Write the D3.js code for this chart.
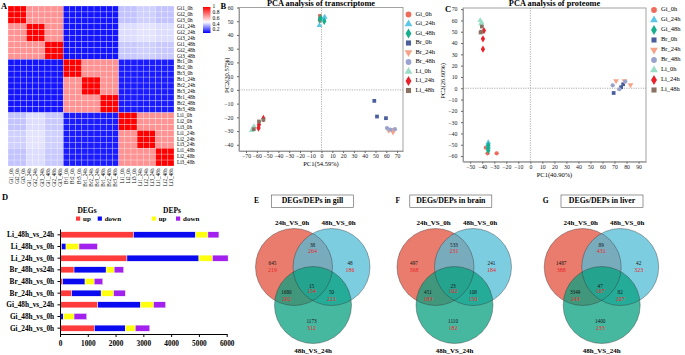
<!DOCTYPE html>
<html><head><meta charset="utf-8">
<script src="https://cdn.jsdelivr.net/npm/d3@7"></script>
<style>
body{margin:0;background:#fff;}
svg{display:block;font-family:"Liberation Serif","Times New Roman",serif;}
</style></head><body>
<svg id="c" width="685" height="355"></svg>
<script>
// ---------------- DATA ----------------
const sampleNames = ["Gi1_0h","Gi2_0h","Gi3_0h","Gi1_24h","Gi2_24h","Gi3_24h","Gi1_48h","Gi2_48h","Gi3_48h",
  "Br1_0h","Br2_0h","Br3_0h","Br1_24h","Br2_24h","Br3_24h","Br1_48h","Br2_48h","Br3_48h",
  "Li1_0h","Li2_0h","Li3_0h","Li1_24h","Li2_24h","Li3_24h","Li1_48h","Li2_48h","Li3_48h"];
const groupNames = ["Gi_0h","Gi_24h","Gi_48h","Br_0h","Br_24h","Br_48h","Li_0h","Li_24h","Li_48h"];
const groupCorr = [
  [1.00,0.70,0.70,0.13,0.13,0.13,0.39,0.41,0.39],
  [0.70,1.00,0.70,0.13,0.13,0.13,0.43,0.44,0.43],
  [0.70,0.70,1.00,0.13,0.13,0.13,0.40,0.41,0.40],
  [0.13,0.13,0.13,1.00,0.70,0.70,0.14,0.14,0.14],
  [0.13,0.13,0.13,0.70,1.00,0.70,0.14,0.14,0.14],
  [0.13,0.13,0.13,0.70,0.70,1.00,0.14,0.14,0.14],
  [0.39,0.43,0.40,0.14,0.14,0.14,1.00,0.70,0.70],
  [0.41,0.44,0.41,0.14,0.14,0.14,0.70,1.00,0.70],
  [0.39,0.43,0.40,0.14,0.14,0.14,0.70,0.70,1.00]];
const colorbarTicks = [1,0.8,0.6,0.4,0.2];

const pcaColors = ["#EE6B5B","#5CC6E6","#17AE8C","#4B5E9C","#F6A289","#9AA3CE","#9ADDC6","#E8222B","#8A7262"];
const pcaShapes = ["circle","triangle","diamond","square","triangleDown","circle","triangle","diamond","square"];

const transPoints = [
  ["Gi_0h",-1.5,54],["Gi_0h",-1.3,52],["Gi_0h",-1.5,50.5],
  ["Gi_24h",3,53],["Gi_24h",-2,47],["Gi_24h",2,52],
  ["Gi_48h",-1.5,51],["Gi_48h",2.5,50],["Gi_48h",-1,52.5],
  ["Br_0h",48.9,-8],["Br_0h",51.4,-19.4],["Br_0h",59.7,-20.6],
  ["Br_24h",62.2,-29.5],["Br_24h",66.2,-30.8],["Br_24h",65.3,-29],
  ["Br_48h",60.7,-27.8],["Br_48h",63.7,-29],["Br_48h",68,-28.6],
  ["Li_0h",-64.7,-29.5],["Li_0h",-63.5,-28],["Li_0h",-62.6,-26.6],
  ["Li_24h",-58.4,-27.8],["Li_24h",-58,-25.4],["Li_24h",-53.9,-20.8],
  ["Li_48h",-62.8,-28.6],["Li_48h",-58,-23],["Li_48h",-53.9,-21.8]];
const protPoints = [
  ["Gi_0h",-37,-52.6],["Gi_0h",-35.6,-57.6],["Gi_0h",-28,-57.6],
  ["Gi_24h",-35,-48],["Gi_24h",-35.2,-50],["Gi_24h",-35,-52],
  ["Gi_48h",-35,-50.5],["Gi_48h",-35.3,-53],["Gi_48h",-35,-55],
  ["Br_0h",69.3,-4.2],["Br_0h",75.5,0.9],["Br_0h",77.2,3.5],
  ["Br_24h",71.3,6.5],["Br_24h",78.3,6.5],["Br_24h",83.3,2.9],
  ["Br_48h",68.5,2.6],["Br_48h",74,-0.9],["Br_48h",79,5.9],
  ["Li_0h",-41.7,60],["Li_0h",-41,57],["Li_0h",-40.5,58],
  ["Li_24h",-38.6,51],["Li_24h",-39.4,43.7],["Li_24h",-39.4,34.6],
  ["Li_48h",-40.3,54.6],["Li_48h",-41.4,49.3],["Li_48h",-40.8,50]];
const transXTicks = [-70,-60,-50,-40,-30,-20,-10,0,10,20,30,40,50,60,70];
const transYTicks = [-40,-30,-20,-10,0,10,20,30,40,50,60];
const protXTicks = [-50,-40,-30,-20,-10,0,10,20,30,40,50,60,70,80,90];
const protYTicks = [-60,-50,-40,-30,-20,-10,0,10,20,30,40,50,60,70];

const barCategories = ["Li_48h_vs_24h","Li_48h_vs_0h","Li_24h_vs_0h","Br_48h_vs24h","Br_48h_vs_0h","Br_24h_vs_0h","Gi_48h_vs_24h","Gi_48h_vs_0h","Gi_24h_vs_0h"];
const degUp   = [2650,  60, 2410,  506,  96,  420, 1360,  12, 1240];
const degDown = [2230, 155, 2590, 1154, 804, 1060, 1540, 108, 1110];
const depUp   = [ 445, 470,  490,  290, 330,  450,  470, 386,  360];
const depDown = [ 395, 660,  560,  340, 310,  420,  430, 454,  520];
const barTicks = [0,1000,2000,3000,4000,5000,6000];

const vennSets = ["24h_VS_0h","48h_VS_0h","48h_VS_24h"];
// region order: A only, A∩B, B only, A∩C, A∩B∩C, B∩C, C only
const gillDEG  = [645, 38, 48, 1680, 15, 50, 1173];
const gillDEP  = [219, 264, 186, 202, 154, 221, 312];
const brainDEG = [497, 533, 241, 451, 23, 108, 1110];
const brainDEP = [368, 231, 184, 183, 102, 150, 182];
const liverDEG = [1487, 89, 42, 3349, 47, 82, 1400];
const liverDEP = [388, 431, 323, 243, 167, 207, 233];

// ---------------- DRAW ----------------
const svg = d3.select("#c");
const FONT = '"Liberation Serif","Times New Roman",serif';

function panelLetter(t,x,y){
  svg.append("text").attr("x",x).attr("y",y).attr("font-size",8.5).attr("font-weight","bold").text(t);
}

// ---- Panel A: heatmap ----
panelLetter("A",1,9);
const hmX = d3.scaleBand().domain(sampleNames).range([8,174]);
const hmY = d3.scaleBand().domain(sampleNames).range([6,166]);
const hmColor = d3.scaleLinear().domain([0.1,0.48,1]).range(["#0000ff","#ffffff","#ff0000"]);
const cells = [];
sampleNames.forEach((r,i)=>sampleNames.forEach((c,j)=>{
  cells.push({r,c,v:groupCorr[Math.floor(i/3)][Math.floor(j/3)]});
}));
svg.append("g").selectAll("rect").data(cells).join("rect")
  .attr("x",d=>hmX(d.c)).attr("y",d=>hmY(d.r))
  .attr("width",hmX.bandwidth()).attr("height",hmY.bandwidth())
  .attr("fill",d=>hmColor(d.v))
  .attr("stroke","rgba(255,255,255,0.45)").attr("stroke-width",0.5);
svg.append("g").selectAll("text").data(sampleNames).join("text")
  .attr("x",177).attr("y",d=>hmY(d)+hmY.bandwidth()/2)
  .attr("dominant-baseline","middle").attr("font-size",5.2).text(d=>d);
svg.append("g").selectAll("text").data(sampleNames).join("text")
  .attr("transform",d=>`translate(${hmX(d)+hmX.bandwidth()/2+1.8},168.5) rotate(-90)`)
  .attr("text-anchor","end").attr("font-size",5.2).text(d=>d);
// colour bar
const cbY = d3.scaleLinear().domain([1,0.1]).range([7,33]);
const defs = svg.append("defs");
const grad = defs.append("linearGradient").attr("id","cbg").attr("x1",0).attr("x2",0).attr("y1",0).attr("y2",1);
d3.range(0,1.0001,0.05).forEach(t=>{
  const v = 1 - t*0.9;
  grad.append("stop").attr("offset",t).attr("stop-color",hmColor(v));
});
svg.append("rect").attr("x",203).attr("y",cbY(1)).attr("width",7.5).attr("height",cbY(0.1)-cbY(1)).attr("fill","url(#cbg)");
svg.append("g").selectAll("text").data(colorbarTicks).join("text")
  .attr("x",212.5).attr("y",d=>cbY(d)).attr("dominant-baseline","middle").attr("font-size",5.5).text(d=>d);

// ---- symbols ----
function symPath(shape,size){
  const map = {circle:d3.symbolCircle,triangle:d3.symbolTriangle,triangleDown:d3.symbolTriangle,
               diamond:d3.symbolDiamond,square:d3.symbolSquare};
  return d3.symbol().type(map[shape]).size(size)();
}
function symTransform(shape,x,y){
  return shape==="triangleDown" ? `translate(${x},${y}) rotate(180)` : `translate(${x},${y})`;
}

// ---- PCA panel ----
function pca(cfg){
  const x = d3.scaleLinear().domain(cfg.xDom).range([cfg.left,cfg.right]);
  const y = d3.scaleLinear().domain(cfg.yDom).range([cfg.bottom,cfg.top]);
  const g = svg.append("g");
  g.append("rect").attr("x",cfg.left).attr("y",cfg.top).attr("width",cfg.right-cfg.left)
    .attr("height",cfg.bottom-cfg.top).attr("fill","none").attr("stroke","#999").attr("stroke-width",0.9);
  const ax = g.append("g").attr("transform",`translate(0,${cfg.bottom})`)
    .call(d3.axisBottom(x).tickValues(cfg.xTicks).tickSize(2).tickSizeOuter(0));
  const ay = g.append("g").attr("transform",`translate(${cfg.left},0)`)
    .call(d3.axisLeft(y).tickValues(cfg.yTicks).tickSize(2).tickSizeOuter(0));
  [ax,ay].forEach(a=>{
    a.select(".domain").attr("stroke","#999");
    a.selectAll(".tick line").attr("stroke","#666");
    a.selectAll("text").attr("font-family",FONT).attr("font-size",5.8).attr("fill","#222");
  });
  ax.selectAll("text").attr("y",3).attr("dy","0.75em");
  ay.selectAll("text").attr("dx","-0.1em");
  g.append("line").attr("x1",x(0)).attr("x2",x(0)).attr("y1",cfg.top).attr("y2",cfg.bottom)
    .attr("stroke","#777").attr("stroke-width",0.6).attr("stroke-dasharray","1.2,1.2");
  g.append("line").attr("x1",cfg.left).attr("x2",cfg.right).attr("y1",y(0)).attr("y2",y(0))
    .attr("stroke","#777").attr("stroke-width",0.6).attr("stroke-dasharray","1.2,1.2");
  g.append("g").selectAll("path").data(cfg.points).join("path")
    .attr("d",d=>symPath(pcaShapes[groupNames.indexOf(d[0])],pcaShapes[groupNames.indexOf(d[0])]==="diamond"?16:14))
    .attr("transform",d=>symTransform(pcaShapes[groupNames.indexOf(d[0])],x(d[1]),y(d[2])))
    .attr("fill",d=>pcaColors[groupNames.indexOf(d[0])]);
  g.append("text").attr("x",(cfg.left+cfg.right)/2).attr("y",6.3).attr("text-anchor","middle")
    .attr("font-size",8.3).attr("font-weight","bold").text(cfg.title);
  g.append("text").attr("x",(cfg.left+cfg.right)/2).attr("y",cfg.xTitleY).attr("text-anchor","middle")
    .attr("font-size",6.5).text(cfg.xTitle);
  g.append("text").attr("transform",`translate(${cfg.yTitleX},${(cfg.top+cfg.bottom)/2-4}) rotate(-90)`)
    .attr("text-anchor","middle").attr("font-size",6.5).text(cfg.yTitle);
  const lg = g.append("g");
  groupNames.forEach((n,i)=>{
    const yy = cfg.legY + i*cfg.legStep;
    lg.append("path").attr("d",symPath(pcaShapes[i],pcaShapes[i]==="diamond"?30:26))
      .attr("transform",symTransform(pcaShapes[i],cfg.legX,yy)).attr("fill",pcaColors[i]);
    lg.append("text").attr("x",cfg.legX+7).attr("y",yy).attr("dominant-baseline","middle")
      .attr("font-size",6.5).text(n);
  });
}
panelLetter("B",220.5,9);
pca({left:239,right:403,top:7.5,bottom:151,xDom:[-76.5,75.5],yDom:[-44.5,60],
  xTicks:transXTicks,yTicks:transYTicks,points:transPoints,title:"PCA analysis of transcriptome",
  xTitle:"PC1(54.59%)",xTitleY:165.5,yTitle:"PC2(30.57%)",yTitleX:229,legX:408.5,legY:14.5,legStep:9.5});
panelLetter("C",445,12);
pca({left:463,right:646,top:8,bottom:161.7,xDom:[-56,96.2],yDom:[-65,71],
  xTicks:protXTicks,yTicks:protYTicks,points:protPoints,title:"PCA analysis of proteome",
  xTitle:"PC1(40.90%)",xTitleY:176.5,yTitle:"PC2(26.60%)",yTitleX:445,legX:654,legY:10,legStep:10});

// ---- Panel D: stacked bars ----
panelLetter("D",2,200);
const bx = d3.scaleLinear().domain([0,6000]).range([60,226.7]);
const by = d3.scaleBand().domain(barCategories).range([229,334]).paddingInner(0.48).paddingOuter(0.24);
const segColors = ["#FF3B3B","#0A0AF0","#FFFF10","#A321EE"];
const segs = [degUp,degDown,depUp,depDown];
barCategories.forEach((c,i)=>{
  let acc = 0;
  segs.forEach((s,k)=>{
    svg.append("rect").attr("x",bx(acc)).attr("y",by(c)).attr("width",bx(acc+s[i])-bx(acc))
      .attr("height",by.bandwidth()).attr("fill",segColors[k]).attr("stroke","#fff").attr("stroke-width",0.4);
    acc += s[i];
  });
});
const dAx = svg.append("g").attr("transform","translate(0,334)")
  .call(d3.axisBottom(bx).tickValues(barTicks).tickFormat(d3.format("d")).tickSize(3).tickSizeOuter(0));
const dAy = svg.append("g").attr("transform","translate(60,0)")
  .call(d3.axisLeft(by).tickSize(2.5).tickSizeOuter(0));
[dAx,dAy].forEach(a=>{
  a.select(".domain").attr("stroke","#000").attr("stroke-width",1);
  a.selectAll("text").attr("font-family",FONT).attr("font-size",7.3).attr("font-weight","bold").attr("fill","#000");
});
dAx.selectAll("text").attr("dy","0.85em");
dAy.selectAll("text").attr("dx","-0.05em");
// legend
svg.append("text").attr("x",87).attr("y",213).attr("text-anchor","middle").attr("font-size",7.5).attr("font-weight","bold").text("DEGs");
svg.append("text").attr("x",172).attr("y",213).attr("text-anchor","middle").attr("font-size",7.5).attr("font-weight","bold").text("DEPs");
const legItems = [[76,"up",0],[97.7,"down",1],[151.7,"up",2],[176,"down",3]];
legItems.forEach(([lx,t,k])=>{
  svg.append("rect").attr("x",lx).attr("y",216.5).attr("width",4.2).attr("height",4.2).attr("fill",segColors[k]);
  svg.append("text").attr("x",lx+7).attr("y",221).attr("font-size",7).attr("font-weight","bold").text(t);
});

// ---- Venn panels ----
function venn(letter,cx,boxCx,title,deg,dep){
  const r = 38.5, cy = 305;
  const circles = [
    {x:cx-19,y:267,c:"rgb(227,80,60)"},
    {x:cx+18.5,y:267,c:"rgb(82,188,215)"},
    {x:cx,y:cy,c:"rgb(8,160,128)"}];
  const g = svg.append("g");
  circles.forEach(c=>g.append("circle").attr("cx",c.x).attr("cy",c.y).attr("r",r)
    .attr("fill",c.c).attr("fill-opacity",0.75));
  circles.forEach(c=>g.append("circle").attr("cx",c.x).attr("cy",c.y).attr("r",r)
    .attr("fill","none").attr("stroke","#333").attr("stroke-width",0.4));
  const offs = [[-40.5,-40.7,-34.2],[-0.5,-59.3,-53.3],[37,-40.7,-34.2],[-26.5,-11.7,-5.8],
                [-1.5,-18.3,-13],[18.5,-11.7,-5.8],[-1.5,16.7,24]];
  offs.forEach((o,i)=>{
    g.append("text").attr("x",cx+o[0]).attr("y",cy+o[1]).attr("text-anchor","middle")
      .attr("dominant-baseline","middle").attr("font-size",5.2).attr("fill","#111").text(deg[i]);
    g.append("text").attr("x",cx+o[0]).attr("y",cy+o[2]).attr("text-anchor","middle")
      .attr("dominant-baseline","middle").attr("font-size",6).attr("fill","#E8262B").text(dep[i]);
  });
  g.append("rect").attr("x",boxCx-41).attr("y",195).attr("width",82).attr("height",12.3)
    .attr("fill","#fff").attr("stroke","#555").attr("stroke-width",0.6);
  g.append("text").attr("x",boxCx).attr("y",201.4).attr("text-anchor","middle").attr("dominant-baseline","middle")
    .attr("font-size",7.8).attr("font-weight","bold").text(title);
  g.append("text").attr("x",cx-21).attr("y",225).attr("text-anchor","middle").attr("font-size",7).attr("font-weight","bold").text(vennSets[0]);
  g.append("text").attr("x",cx+25.5).attr("y",225).attr("text-anchor","middle").attr("font-size",7).attr("font-weight","bold").text(vennSets[1]);
  g.append("text").attr("x",cx).attr("y",353).attr("text-anchor","middle").attr("font-size",7).attr("font-weight","bold").text(vennSets[2]);
  g.append("text").attr("x",cx-59).attr("y",203).attr("font-size",7.5).attr("font-weight","bold").text(letter);
}
venn("E",313,312.5,"DEGs/DEPs in gill",gillDEG,gillDEP);
venn("F",454.5,450.8,"DEGs/DEPs in brain",brainDEG,brainDEP);
venn("G",601.7,602,"DEGs/DEPs in liver",liverDEG,liverDEP);
</script>
</body></html>
